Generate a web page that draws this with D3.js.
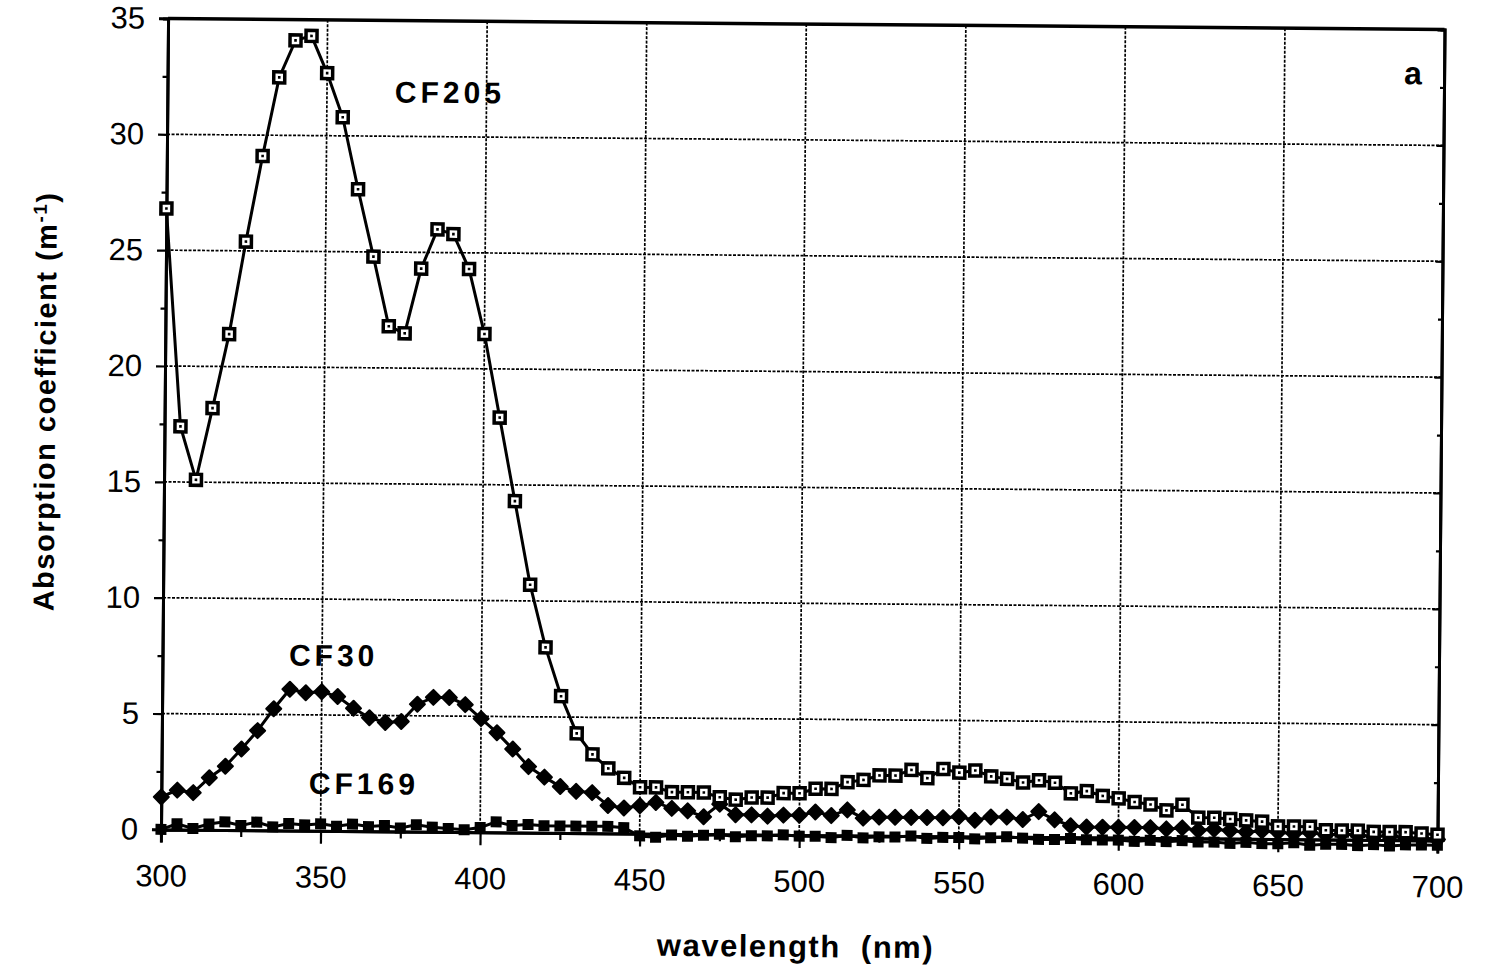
<!DOCTYPE html>
<html>
<head>
<meta charset="utf-8">
<script src="https://cdn.jsdelivr.net/npm/d3@7"></script>
<style>
  body { margin: 0; background: #fff; }
  svg { display: block; }
  text { font-family: "Liberation Sans", Arial, Helvetica, sans-serif; fill: #000; }
</style>
</head>
<body>
<div id="chart"></div>
<script>
// wavelengths (nm), one sample every 5 nm
const wavelengths = [
  300, 305, 310, 315, 320, 325, 330, 335, 340, 345,
  350, 355, 360, 365, 370, 375, 380, 385, 390, 395,
  400, 405, 410, 415, 420, 425, 430, 435, 440, 445,
  450, 455, 460, 465, 470, 475, 480, 485, 490, 495,
  500, 505, 510, 515, 520, 525, 530, 535, 540, 545,
  550, 555, 560, 565, 570, 575, 580, 585, 590, 595,
  600, 605, 610, 615, 620, 625, 630, 635, 640, 645,
  650, 655, 660, 665, 670, 675, 680, 685, 690, 695,
  700
];

const cf205 = [
  26.8, 17.4, 15.1, 18.2, 21.4, 25.4, 29.1, 32.5, 34.1, 34.3,
  32.7, 30.8, 27.7, 24.8, 21.8, 21.5, 24.3, 26.0, 25.8, 24.3,
  21.5, 17.9, 14.3, 10.7, 8.0, 5.9, 4.3, 3.4, 2.8, 2.4,
  2.0, 2.0, 1.8, 1.8, 1.8, 1.6, 1.5, 1.6, 1.6, 1.8,
  1.8, 2.0, 2.0, 2.3, 2.4, 2.6, 2.6, 2.85, 2.5, 2.9,
  2.75, 2.85, 2.6, 2.5, 2.35, 2.45, 2.35, 1.9, 2.0, 1.8,
  1.7, 1.55, 1.45, 1.2, 1.45, 0.9, 0.9, 0.85, 0.8, 0.75,
  0.55, 0.55, 0.55, 0.4, 0.4, 0.4, 0.35, 0.35, 0.35, 0.3,
  0.25
];

const cf30 = [
  1.4, 1.7, 1.6, 2.25, 2.75, 3.5, 4.3, 5.25, 6.1, 5.95,
  6.0, 5.8, 5.3, 4.9, 4.7, 4.75, 5.5, 5.8, 5.8, 5.5,
  4.9, 4.3, 3.6, 2.85, 2.4, 2.0, 1.8, 1.75, 1.2, 1.1,
  1.2, 1.35, 1.1, 1.0, 0.75, 1.3, 0.85, 0.85, 0.8, 0.85,
  0.85, 1.0, 0.85, 1.1, 0.75, 0.8, 0.8, 0.8, 0.8, 0.8,
  0.85, 0.7, 0.85, 0.85, 0.75, 1.1, 0.75, 0.5, 0.45, 0.45,
  0.45, 0.45, 0.45, 0.4, 0.45, 0.35, 0.4, 0.35, 0.3, 0.35,
  0.3, 0.25, 0.3, 0.2, 0.25, 0.2, 0.15, 0.2, 0.1, 0.1,
  0.05
];

const cf169 = [
  0.0, 0.25, 0.05, 0.25, 0.35, 0.2, 0.35, 0.15, 0.3, 0.25,
  0.3, 0.2, 0.3, 0.2, 0.25, 0.15, 0.3, 0.2, 0.15, 0.1,
  0.2, 0.45, 0.3, 0.35, 0.3, 0.3, 0.3, 0.3, 0.3, 0.25,
  -0.1, -0.15, -0.05, -0.1, -0.05, 0.0, -0.1, -0.05, -0.05, 0.0,
  -0.05, -0.05, -0.1, 0.0, -0.1, -0.05, -0.05, 0.0, -0.1, -0.05,
  -0.05, -0.1, -0.05, 0.0, -0.05, -0.1, -0.1, -0.05, -0.1, -0.1,
  -0.1, -0.15, -0.1, -0.15, -0.1, -0.15, -0.15, -0.2, -0.15, -0.2,
  -0.2, -0.15, -0.25, -0.2, -0.2, -0.25, -0.2, -0.25, -0.2, -0.2,
  -0.2
];

const xTicks = [300, 350, 400, 450, 500, 550, 600, 650, 700];
const xMinor = [325, 375, 425, 475, 525, 575, 625, 675];
const yTicks = [0, 5, 10, 15, 20, 25, 30, 35];
const yMinor = [2.5, 7.5, 12.5, 17.5, 22.5, 27.5, 32.5];

const width = 1486;
const height = 972;
const margin = { top: 24, left: 164.5 };
const w = 1276.5;
const h = 811;

const x = d3.scaleLinear().domain([300, 700]).range([0, w]);
const y = d3.scaleLinear().domain([0, 35]).range([h, 0]);

const svg = d3.select('#chart').append('svg')
  .attr('width', width)
  .attr('height', height);

svg.append('rect').attr('width', width).attr('height', height).attr('fill', '#fff');

// the scanned figure is tilted by about half a degree
const page = svg.append('g').attr('transform', 'rotate(0.5, 803, 430)');

const plot = page.append('g')
  .attr('transform', 'translate(' + margin.left + ',' + margin.top + ')');

// dotted grid
const grid = plot.append('g').attr('class', 'grid');
grid.selectAll('line.v')
  .data(xTicks.slice(1, -1))
  .join('line')
  .attr('class', 'v')
  .attr('x1', d => x(d)).attr('x2', d => x(d))
  .attr('y1', 0).attr('y2', h);
grid.selectAll('line.h')
  .data(yTicks.slice(1, -1))
  .join('line')
  .attr('class', 'h')
  .attr('x1', 0).attr('x2', w)
  .attr('y1', d => y(d)).attr('y2', d => y(d));
grid.selectAll('line')
  .attr('stroke', '#000')
  .attr('stroke-width', 1.7)
  .attr('stroke-dasharray', '3,1.5');

// left axis
const yAxis = plot.append('g')
  .call(d3.axisLeft(y).tickValues(yTicks).tickSize(9).tickPadding(14));
yAxis.append('g')
  .call(d3.axisLeft(y).tickValues(yMinor).tickSize(5).tickFormat(''));
yAxis.selectAll('.tick text').style('font-size', '31px');

// right side ticks, pointing inward
const yRight = plot.append('g').attr('transform', 'translate(' + w + ',0)');
yRight.call(d3.axisLeft(y).tickValues(yTicks).tickSize(7).tickFormat(''));
yRight.append('g').call(d3.axisLeft(y).tickValues(yMinor).tickSize(4).tickFormat(''));

// bottom axis
const xAxis = plot.append('g')
  .attr('transform', 'translate(0,' + h + ')')
  .call(d3.axisBottom(x).tickValues(xTicks).tickSize(13).tickPadding(22));
xAxis.append('g')
  .call(d3.axisBottom(x).tickValues(xMinor).tickSize(7).tickFormat(''));
xAxis.selectAll('.tick text').style('font-size', '31px');

plot.selectAll('.domain').attr('stroke-width', 3);
plot.selectAll('.tick line').attr('stroke-width', 2.2);

// top frame line
plot.append('line')
  .attr('x1', 0).attr('x2', w)
  .attr('y1', y(35)).attr('y2', y(35))
  .attr('stroke', '#000')
  .attr('stroke-width', 3.5);

const line = d3.line()
  .x((d, i) => x(wavelengths[i]))
  .y(d => y(d));

// CF169: filled squares
plot.append('path')
  .datum(cf169)
  .attr('d', line)
  .attr('fill', 'none')
  .attr('stroke', '#000')
  .attr('stroke-width', 3);
plot.append('g').selectAll('rect')
  .data(cf169)
  .join('rect')
  .attr('x', (d, i) => x(wavelengths[i]) - 5.5)
  .attr('y', d => y(d) - 5.5)
  .attr('width', 11)
  .attr('height', 11)
  .attr('fill', '#000');

// CF30: filled diamonds
plot.append('path')
  .datum(cf30)
  .attr('d', line)
  .attr('fill', 'none')
  .attr('stroke', '#000')
  .attr('stroke-width', 3);
plot.append('g').selectAll('path')
  .data(cf30)
  .join('path')
  .attr('transform', (d, i) => 'translate(' + x(wavelengths[i]) + ',' + y(d) + ')')
  .attr('d', 'M0,-7.5L7.5,0L0,7.5L-7.5,0Z')
  .attr('fill', '#000')
  .attr('stroke', '#000')
  .attr('stroke-width', 2)
  .attr('stroke-linejoin', 'round');

// CF205: open squares with a dot
plot.append('path')
  .datum(cf205)
  .attr('d', line)
  .attr('fill', 'none')
  .attr('stroke', '#000')
  .attr('stroke-width', 3);
const sq = plot.append('g').selectAll('g')
  .data(cf205)
  .join('g')
  .attr('transform', (d, i) => 'translate(' + x(wavelengths[i]) + ',' + y(d) + ')');
sq.append('rect')
  .attr('x', -5.5).attr('y', -5.5)
  .attr('width', 11).attr('height', 11)
  .attr('fill', '#fff')
  .attr('stroke', '#000')
  .attr('stroke-width', 3.5);
sq.append('rect')
  .attr('x', -1.3).attr('y', -1.3)
  .attr('width', 2.6).attr('height', 2.6)
  .attr('fill', '#000');

// series labels
const labels = [
  { text: 'CF205', x: 392, y: 106 },
  { text: 'CF30', x: 291, y: 670 },
  { text: 'CF169', x: 312, y: 798 }
];
page.selectAll('text.series')
  .data(labels)
  .join('text')
  .attr('class', 'series')
  .attr('x', d => d.x)
  .attr('y', d => d.y)
  .text(d => d.text)
  .style('font-size', '30px')
  .style('font-weight', 'bold')
  .style('letter-spacing', '4px');

page.append('text')
  .attr('x', 1401)
  .attr('y', 79)
  .text('a')
  .style('font-size', '32px')
  .style('font-weight', 'bold');

// axis titles
page.append('text')
  .attr('x', 800)
  .attr('y', 957)
  .attr('text-anchor', 'middle')
  .style('font-size', '31px')
  .style('font-weight', 'bold')
  .style('letter-spacing', '1.5px')
  .style('white-space', 'pre')
  .text('wavelength  (nm)');

const yt = page.append('text')
  .attr('transform', 'translate(55,408) rotate(-90)')
  .attr('text-anchor', 'middle')
  .style('font-size', '29px')
  .style('font-weight', 'bold')
  .style('letter-spacing', '1.5px');
yt.append('tspan').text('Absorption coefficient (m');
yt.append('tspan').attr('baseline-shift', 'super').style('font-size', '19px').text('-1');
yt.append('tspan').text(')');
</script>
</body>
</html>
